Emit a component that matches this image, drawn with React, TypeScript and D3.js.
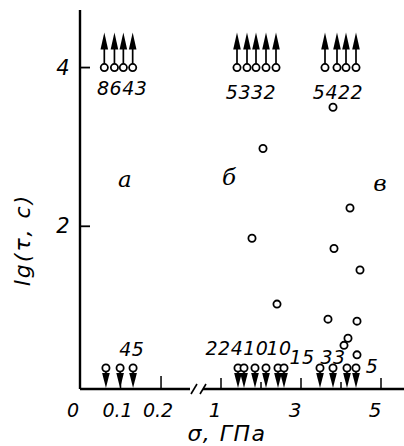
import React from 'react';
import * as d3 from 'd3';

// σ, ГПа for specimens that did not break (arrow up, lg τ >= 4)
const runoutA = [0.06, 0.085, 0.107, 0.13];
const runoutB = [1.4, 1.65, 1.875, 2.125, 2.375];
const runoutC = [3.6, 3.9, 4.125, 4.375];
const runoutLg = 4;

// σ, ГПа for specimens broken on loading (arrow down)
const instantA = [0.064, 0.099, 0.131];
const instantB = [1.425, 1.575, 1.85, 2.125, 2.425, 2.575];
const instantC = [3.475, 3.8, 4.15, 4.375];

// time-to-failure points
const failSigma = [3.8, 2.05, 4.225, 1.775, 3.825, 4.475, 2.4, 3.675, 4.4, 4.175, 4.075, 4.4];
const failLg = [3.5, 2.98, 2.23, 1.85, 1.72, 1.45, 1.02, 0.83, 0.805, 0.59, 0.5, 0.38];

// count labels (scale, σ, lg, text)
const countScale = ['a', 'b', 'b', 'a', 'b', 'b', 'b', 'b', 'b'];
const countSigma = [0.104, 1.75, 3.925, 0.128, 1.4, 2.45, 3.025, 3.8, 4.775];
const countLg = [3.74, 3.69, 3.69, 0.453, 0.466, 0.466, 0.353, 0.353, 0.24];
const countText = ['8643', '5332', '5422', '45', '22410', '10', '15', '33', '5'];

// panel letters
const panelScale = ['a', 'b', 'b'];
const panelSigma = [0.111, 1.2, 4.975];
const panelLg = [2.6, 2.62, 2.54];
const panelText = ['а', 'б', 'в'];

const ticksA = [0, 0.1, 0.2];
const ticksALabel = ['0', '0.1', '0.2'];
const ticksB = [1, 2, 3, 4, 5];
const ticksBLabel = ['1', '', '3', '', '5'];
const ticksY = [2, 4];

const W = 404;
const H = 446;
const FONT = "'DejaVu Sans', sans-serif";
const SERIF = "'DejaVu Serif', serif";

export default function App() {
  const xA = d3.scaleLinear().domain([0, 0.2715]).range([80, 190]);
  const xB = d3.scaleLinear().domain([0.55, 5.575]).range([203, 404]);
  const y = d3.scaleLinear().domain([-0.05, 4.7]).range([389, 12]);
  const base = y(-0.05);
  const pick = (s: string) => (s === 'a' ? xA : xB);

  const upArrow = (cx: number, i: string | number) => {
    const cy = y(runoutLg);
    return (
      <g key={'u' + i}>
        <line x1={cx} x2={cx} y1={cy - 3.5} y2={cy - 20} stroke="#000" strokeWidth={1.7} />
        <path d={`M${cx},${cy - 35}L${cx + 3.8},${cy - 18}L${cx - 3.8},${cy - 18}Z`} fill="#000" />
        <circle cx={cx} cy={cy} r={3.6} fill="#fff" stroke="#000" strokeWidth={1.8} />
      </g>
    );
  };

  const downArrow = (cx: number, i: string | number) => {
    const cy = base - 21;
    return (
      <g key={'d' + i}>
        <line x1={cx} x2={cx} y1={cy + 3} y2={cy + 7} stroke="#000" strokeWidth={1.7} />
        <path d={`M${cx - 3.8},${cy + 5}L${cx + 3.8},${cy + 5}L${cx},${base - 1}Z`} fill="#000" />
        <circle cx={cx} cy={cy} r={3.6} fill="#fff" stroke="#000" strokeWidth={1.8} />
      </g>
    );
  };

  return (
    <svg width={W} height={H} style={{ position: 'fixed', left: 0, top: 0, background: '#fff' }}>
      {/* axes */}
      <line x1={xA(0)} x2={xA(0)} y1={10} y2={base} stroke="#000" strokeWidth={2.4} />
      <line x1={xA(0)} x2={xA(0.2715)} y1={base} y2={base} stroke="#000" strokeWidth={2.4} />
      <line x1={xB(0.55)} x2={xB(5.575)} y1={base} y2={base} stroke="#000" strokeWidth={2.4} />
      <line x1={191} x2={197} y1={base + 5} y2={base - 5} stroke="#000" strokeWidth={1.6} />
      <line x1={200} x2={206} y1={base + 5} y2={base - 5} stroke="#000" strokeWidth={1.6} />

      {ticksY.map((t) => (
        <g key={'ty' + t}>
          <line x1={xA(0)} x2={xA(0) + 10} y1={y(t)} y2={y(t)} stroke="#000" strokeWidth={1.8} />
          <text x={xA(0) - 17} y={y(t)} textAnchor="middle" dominantBaseline="central"
            fontFamily={FONT} fontStyle="italic" fontSize={21}>{t}</text>
        </g>
      ))}

      {ticksA.map((t, i) => (
        <g key={'ta' + t}>
          {t > 0 && <line x1={xA(t)} x2={xA(t)} y1={base} y2={base - (t === 0.2 ? 13 : 8)} stroke="#000" strokeWidth={1.5} />}
          <text x={xA(t) - (t === 0 ? 7 : 3)} y={base + 21} textAnchor="middle" dominantBaseline="central"
            fontFamily={FONT} fontStyle="italic" fontSize={19}>{ticksALabel[i]}</text>
        </g>
      ))}

      {ticksB.map((t, i) => (
        <g key={'tb' + t}>
          <line x1={xB(t)} x2={xB(t)} y1={base} y2={base - (t % 2 ? 11 : 7)} stroke="#000" strokeWidth={1.5} />
          <text x={xB(t) - 6} y={base + 21} textAnchor="middle" dominantBaseline="central"
            fontFamily={FONT} fontStyle="italic" fontSize={20}>{ticksBLabel[i]}</text>
        </g>
      ))}

      {/* axis titles */}
      <text transform={`translate(22,240) rotate(-90)`} textAnchor="middle" dominantBaseline="central"
        fontFamily={FONT} fontStyle="italic" fontSize={22} letterSpacing={2}>lg(τ, c)</text>
      <text x={227} y={433} textAnchor="middle" dominantBaseline="central"
        fontFamily={FONT} fontStyle="italic" fontSize={22} letterSpacing={1.5}>σ, ГПа</text>

      {/* panel letters */}
      {panelText.map((t, i) => (
        <text key={'p' + i} x={pick(panelScale[i])(panelSigma[i])} y={y(panelLg[i])}
          textAnchor="middle" dominantBaseline="central" fontFamily={SERIF} fontStyle="italic" fontSize={23}>{t}</text>
      ))}

      {/* markers */}
      {runoutA.map((s, i) => upArrow(xA(s), 'a' + i))}
      {runoutB.map((s, i) => upArrow(xB(s), 'b' + i))}
      {runoutC.map((s, i) => upArrow(xB(s), 'c' + i))}
      {instantA.map((s, i) => downArrow(xA(s), 'a' + i))}
      {instantB.map((s, i) => downArrow(xB(s), 'b' + i))}
      {instantC.map((s, i) => downArrow(xB(s), 'c' + i))}
      {failSigma.map((s, i) => (
        <circle key={'f' + i} cx={xB(s)} cy={y(failLg[i])} r={3.6} fill="#fff" stroke="#000" strokeWidth={1.8} />
      ))}

      {/* counts */}
      {countText.map((t, i) => (
        <text key={'c' + i} x={pick(countScale[i])(countSigma[i])} y={y(countLg[i])}
          textAnchor="middle" dominantBaseline="central" fontFamily={FONT} fontStyle="italic"
          fontSize={19} letterSpacing={0.5}>{t}</text>
      ))}
    </svg>
  );
}
